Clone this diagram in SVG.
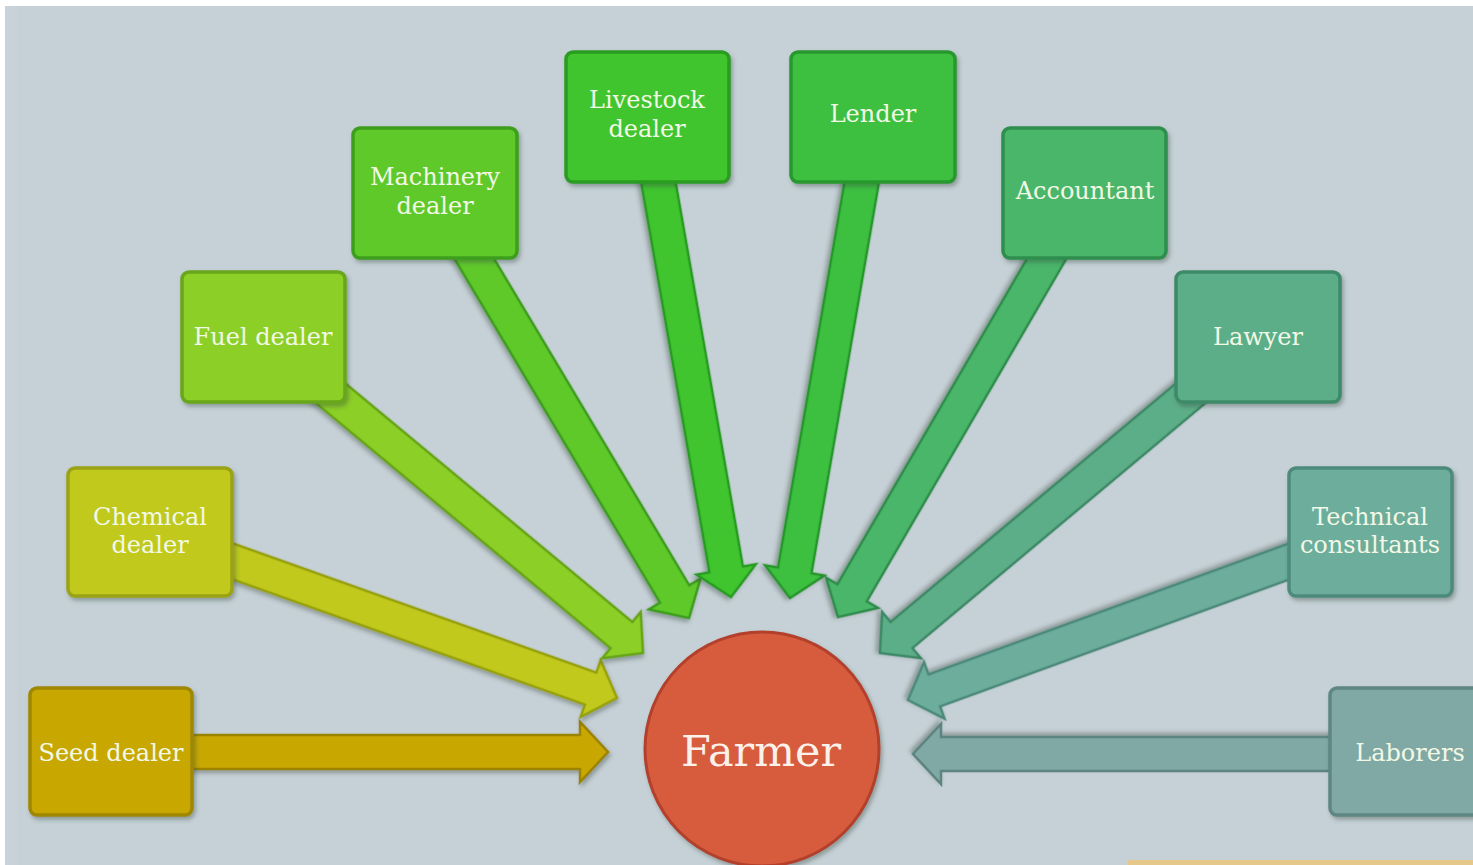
<svg xmlns="http://www.w3.org/2000/svg" width="1473" height="865" viewBox="0 0 1473 865">
<defs>
<filter id="sh" x="-20%" y="-20%" width="140%" height="140%">
<feDropShadow dx="2" dy="3" stdDeviation="2.2" flood-color="#3a4a40" flood-opacity="0.4"/>
</filter>
</defs>
<style>
.box{stroke-width:3.5;filter:url(#sh)}
.arr{stroke-width:2.5;stroke-linejoin:miter;filter:url(#sh)}
.lbl{font-family:"DejaVu Serif","Liberation Serif",serif;font-size:24px;fill:#f2f8e6;text-anchor:middle}
.big{font-family:"DejaVu Serif","Liberation Serif",serif;font-size:43px;fill:#fbf1ea;text-anchor:middle}
</style>
<rect x="0" y="0" width="1473" height="865" fill="#ffffff"/>
<rect x="5" y="6" width="1468" height="859" fill="#c6d1d7"/>
<rect x="5" y="6" width="12" height="859" fill="#c8d2d8"/>
<rect x="1128" y="860" width="345" height="5" fill="#e6c98a"/>

<g id="connectors">
<polygon class="arr" fill="#c8a800" stroke="#9c8300" transform="translate(608,752) rotate(0)" points="-497,-17 -28,-17 -28,-30 0,0 -28,30 -28,17 -497,17"/>
<polygon class="arr" fill="#c0c91c" stroke="#96a010" transform="translate(617,698) rotate(19.57)" points="-495,-17 -28,-17 -28,-30 0,0 -28,30 -28,17 -495,17"/>
<polygon class="arr" fill="#8ccf28" stroke="#66a418" transform="translate(643,653) rotate(39.75)" points="-494,-17 -28,-17 -28,-30 0,0 -28,30 -28,17 -494,17"/>
<polygon class="arr" fill="#5ec92c" stroke="#3c9c1c" transform="translate(689,618) rotate(59.13)" points="-495,-17 -28,-17 -28,-30 0,0 -28,30 -28,17 -495,17"/>
<polygon class="arr" fill="#40c52e" stroke="#289a20" transform="translate(731,597) rotate(80.07)" points="-487,-17 -28,-17 -28,-30 0,0 -28,30 -28,17 -487,17"/>
<polygon class="arr" fill="#3cc040" stroke="#26962c" transform="translate(790,598) rotate(99.79)" points="-488,-17 -28,-17 -28,-30 0,0 -28,30 -28,17 -488,17"/>
<polygon class="arr" fill="#4ab66a" stroke="#2e8c4c" transform="translate(838,617) rotate(120.22)" points="-491,-17 -28,-17 -28,-30 0,0 -28,30 -28,17 -491,17"/>
<polygon class="arr" fill="#5cae88" stroke="#3c8866" transform="translate(880,653) rotate(140.10)" points="-493,-17 -28,-17 -28,-30 0,0 -28,30 -28,17 -493,17"/>
<polygon class="arr" fill="#6cad9c" stroke="#4c897a" transform="translate(908,700) rotate(160.02)" points="-492,-17 -28,-17 -28,-30 0,0 -28,30 -28,17 -492,17"/>
<polygon class="arr" fill="#80a8a4" stroke="#5c8480" transform="translate(913,754) rotate(180)" points="-497,-17 -28,-17 -28,-30 0,0 -28,30 -28,17 -497,17"/>
</g>

<g id="seed-dealer">
<rect class="box" x="30" y="688" width="162" height="127" rx="7" fill="#c8a800" stroke="#a08700"/>
<text class="lbl" x="111" y="761">Seed dealer</text>
</g>
<g id="chemical-dealer">
<rect class="box" x="68" y="468" width="164" height="128" rx="7" fill="#c0c91c" stroke="#9aa212"/>
<text class="lbl" x="150" y="525">Chemical</text>
<text class="lbl" x="150" y="553">dealer</text>
</g>
<g id="fuel-dealer">
<rect class="box" x="182" y="272" width="163" height="130" rx="7" fill="#8ccf28" stroke="#68a61a"/>
<text class="lbl" x="263" y="345">Fuel dealer</text>
</g>
<g id="machinery-dealer">
<rect class="box" x="353" y="128" width="164" height="130" rx="7" fill="#5ec92c" stroke="#3e9e1e"/>
<text class="lbl" x="435" y="185">Machinery</text>
<text class="lbl" x="435" y="214">dealer</text>
</g>
<g id="livestock-dealer">
<rect class="box" x="566" y="52" width="163" height="130" rx="7" fill="#40c52e" stroke="#2a9c22"/>
<text class="lbl" x="647" y="108">Livestock</text>
<text class="lbl" x="647" y="137">dealer</text>
</g>
<g id="lender">
<rect class="box" x="791" y="52" width="164" height="130" rx="7" fill="#3cc040" stroke="#28982e"/>
<text class="lbl" x="873" y="122">Lender</text>
</g>
<g id="accountant">
<rect class="box" x="1003" y="128" width="163" height="130" rx="7" fill="#4ab66a" stroke="#2f8e4e"/>
<text class="lbl" x="1085" y="199">Accountant</text>
</g>
<g id="lawyer">
<rect class="box" x="1176" y="272" width="164" height="130" rx="7" fill="#5cae88" stroke="#3e8a68"/>
<text class="lbl" x="1258" y="345">Lawyer</text>
</g>
<g id="technical-consultants">
<rect class="box" x="1289" y="468" width="163" height="128" rx="7" fill="#6cad9c" stroke="#4e8a7c"/>
<text class="lbl" x="1370" y="525">Technical</text>
<text class="lbl" x="1370" y="553">consultants</text>
</g>
<g id="laborers">
<rect class="box" x="1330" y="688" width="160" height="127" rx="7" fill="#80a8a4" stroke="#5e8682"/>
<text class="lbl" x="1410" y="761">Laborers</text>
</g>
<g id="farmer">
<circle cx="762" cy="749" r="117" fill="#d65c3e" stroke="#b2402c" stroke-width="3" filter="url(#sh)"/>
<text class="big" x="761" y="766">Farmer</text>
</g>
</svg>
